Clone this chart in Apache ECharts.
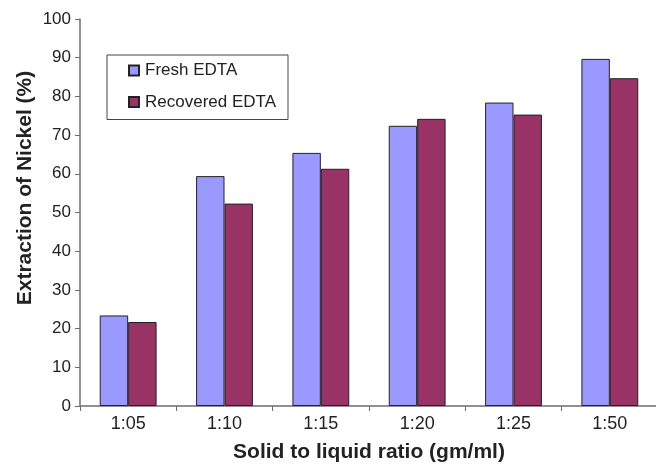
<!DOCTYPE html>
<html>
<head>
<meta charset="utf-8">
<script src="https://cdn.jsdelivr.net/npm/echarts@6/dist/echarts.min.js"></script>
<style>
  html, body { margin: 0; padding: 0; background: #fff; }
  #chart { width: 656px; height: 464px; }
</style>
</head>
<body>
<div id="chart"></div>
<script>
// Solid-to-liquid ratios tested
const ratios = ['1:05', '1:10', '1:15', '1:20', '1:25', '1:50'];
// Nickel extraction (%) with fresh and recovered EDTA
const freshEDTA = [23.4, 59.4, 65.4, 72.4, 78.4, 89.7];
const recoveredEDTA = [21.7, 52.3, 61.3, 74.2, 75.3, 84.7];
// Value axis ticks
const yTicks = [0, 10, 20, 30, 40, 50, 60, 70, 80, 90, 100];

const font = '"Liberation Sans", Arial, sans-serif';
const axisGrey = '#6e6e6e';

const chart = echarts.init(document.getElementById('chart'), null, { renderer: 'canvas' });

chart.setOption({
  animation: false,
  backgroundColor: '#ffffff',
  textStyle: { fontFamily: font },
  grid: { left: 80, top: 19, bottom: 58, right: -2, containLabel: false, outerBoundsMode: 'none' },
  legend: {
    orient: 'vertical',
    left: 107,
    top: 55,
    padding: [7, 12, 9, 21],
    itemGap: 14.5,
    itemWidth: 10,
    itemHeight: 10,
    icon: 'rect',
    borderColor: '#444',
    borderWidth: 1,
    textStyle: { fontFamily: font, fontSize: 17, color: '#222', padding: [0, 0, 0, 1] },
    data: ['Fresh EDTA', 'Recovered EDTA']
  },
  xAxis: {
    type: 'category',
    data: ratios,
    name: 'Solid to liquid ratio (gm/ml)',
    nameLocation: 'middle',
    nameGap: 36,
    nameTextStyle: { fontFamily: font, fontSize: 21, fontWeight: 'bold', color: '#222' },
    axisLine: { lineStyle: { color: axisGrey, width: 1.5 } },
    axisTick: { show: true, length: 5, alignWithLabel: false, lineStyle: { color: axisGrey } },
    axisLabel: { fontFamily: font, fontSize: 18, color: '#222', margin: 9 },
    splitLine: { show: false }
  },
  yAxis: {
    type: 'value',
    min: yTicks[0],
    max: yTicks[yTicks.length - 1],
    interval: yTicks[1] - yTicks[0],
    axisLine: { show: true, lineStyle: { color: axisGrey, width: 1.5 } },
    axisTick: { show: true, length: 5, lineStyle: { color: axisGrey } },
    axisLabel: { fontFamily: font, fontSize: 17, color: '#222', margin: 9 },
    splitLine: { show: false }
  },
  graphic: [{
    type: 'text',
    x: 25,
    y: 188,
    rotation: Math.PI / 2,
    style: {
      text: 'Extraction of Nickel (%)',
      font: 'bold 21px ' + font,
      fill: '#222',
      align: 'center',
      verticalAlign: 'middle'
    }
  }],
  series: [
    {
      name: 'Fresh EDTA',
      type: 'bar',
      data: freshEDTA,
      barGap: '0%',
      barCategoryGap: '41%',
      itemStyle: { color: '#9999ff', borderColor: '#222', borderWidth: 1 }
    },
    {
      name: 'Recovered EDTA',
      type: 'bar',
      data: recoveredEDTA,
      barGap: '0%',
      barCategoryGap: '41%',
      itemStyle: { color: '#993366', borderColor: '#222', borderWidth: 1 }
    }
  ]
});
</script>
</body>
</html>
